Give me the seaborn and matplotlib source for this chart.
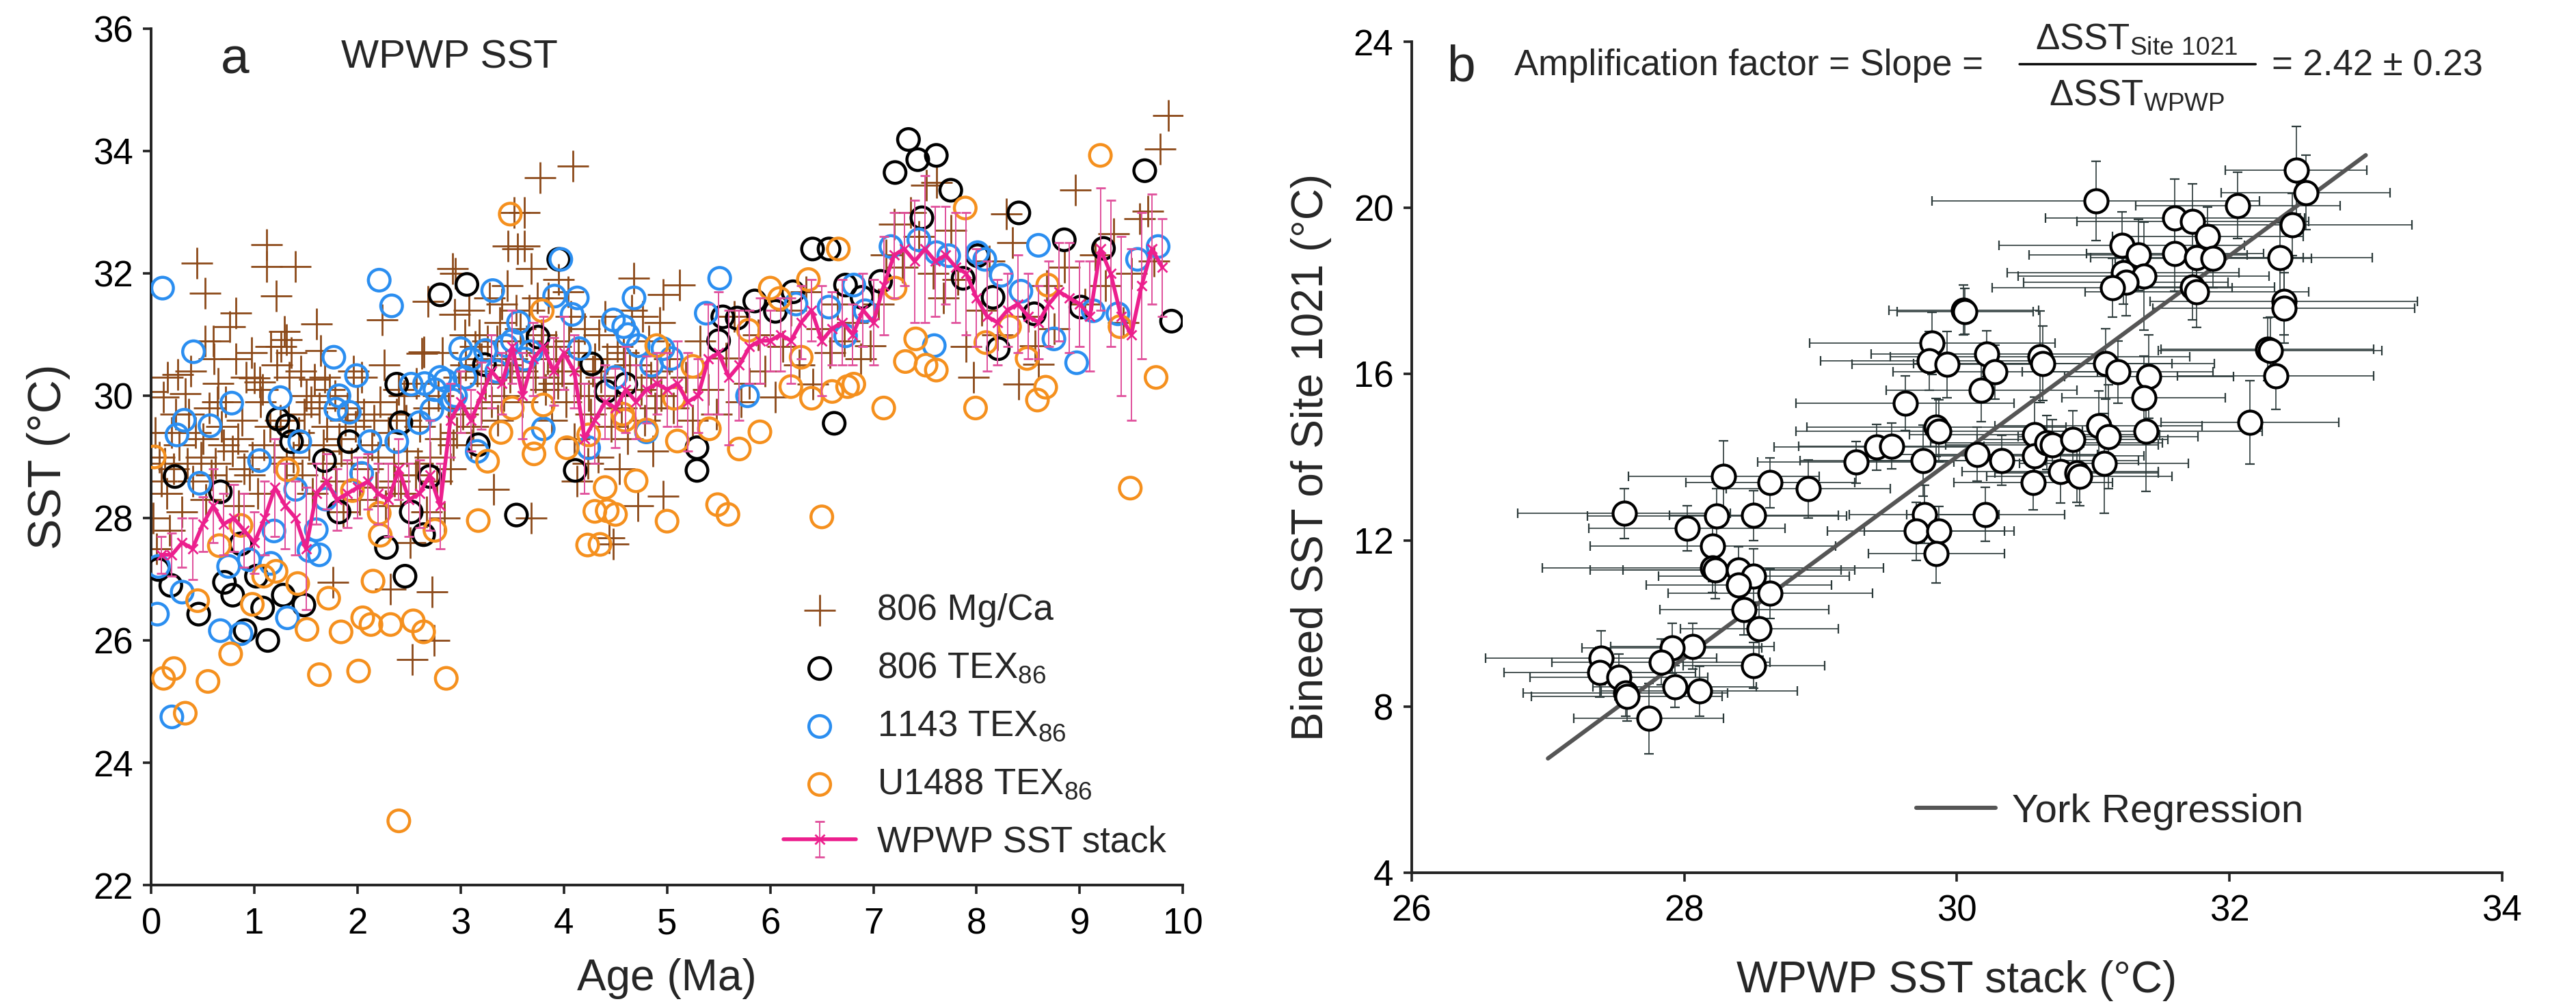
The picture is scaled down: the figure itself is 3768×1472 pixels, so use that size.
import matplotlib
matplotlib.use("Agg")
import matplotlib.pyplot as plt
import seaborn as sns

# ---------------- panel a : WPWP SST records ----------------
mgca_age = [0.00, 0.02, 0.05, 0.08, 0.12, 0.15, 0.18, 0.20, 0.22, 0.26,
            0.27, 0.30, 0.33, 0.36, 0.40, 0.43, 0.44, 0.48, 0.52, 0.53,
            0.52, 0.56, 0.60, 0.62, 0.65, 0.68, 0.73, 0.76, 0.79, 0.82,
            0.82, 0.85, 0.88, 0.92, 0.95, 0.98, 1.00, 1.05, 1.03, 1.06,
            1.09, 1.12, 1.12, 1.16, 1.21, 1.22, 1.25, 1.29, 1.31, 1.31,
            1.34, 1.36, 1.40, 1.43, 1.46, 1.50, 1.53, 1.56, 1.58, 1.60,
            1.63, 1.64, 1.66, 1.70, 1.73, 1.76, 1.79, 1.82, 1.86, 1.90,
            1.94, 1.98, 2.02, 2.06, 2.10, 2.14, 2.18, 2.22, 2.24, 2.27,
            2.30, 2.32, 2.35, 2.38, 2.42, 2.45, 2.48, 2.51, 2.53, 2.56,
            2.60, 2.62, 2.64, 2.67, 2.68, 2.70, 2.72, 2.74, 2.77, 2.80,
            2.84, 2.88, 2.92, 2.94, 2.95, 2.96, 2.98, 3.02, 3.05, 3.08,
            3.10, 3.14, 3.18, 3.20, 3.24, 3.28, 3.32, 3.35, 3.38, 3.42,
            3.45, 3.46, 3.50, 3.52, 3.55, 3.58, 3.60, 3.62, 3.62, 3.66,
            3.68, 3.68, 3.72, 3.77, 3.78, 3.82, 3.85, 3.88, 3.92, 3.95,
            3.98, 4.02, 4.05, 4.09, 4.10, 4.13, 4.16, 4.20, 4.23, 4.26,
            4.30, 4.33, 4.36, 4.40, 4.44, 4.46, 4.48, 4.50, 4.54, 4.58,
            4.62, 4.66, 4.68, 4.72, 4.75, 4.78, 4.82, 4.86, 4.90, 4.93,
            4.96, 4.96, 5.02, 5.06, 5.12, 5.18, 5.25, 5.32, 5.40, 5.48,
            5.57, 5.65, 5.72, 5.80, 5.88, 5.95, 6.05, 6.12, 6.20, 6.28,
            6.35, 6.41, 6.50, 6.58, 6.65, 6.72, 6.80, 6.88, 6.97, 7.05,
            7.12, 7.20, 7.28, 7.36, 7.44, 7.51, 7.58, 7.61, 7.68, 7.75,
            7.82, 7.90, 7.97, 8.05, 8.12, 8.20, 8.29, 8.35, 8.41, 8.50,
            8.57, 8.60, 8.68, 8.75, 8.85, 8.96, 9.05, 9.15, 9.25, 9.33,
            9.42, 9.50, 9.58, 9.66, 9.72, 9.78, 9.86,
            0.10, 0.35, 0.58, 0.70, 0.90, 1.15, 1.38, 1.48, 1.68, 1.84,
            2.00, 2.20, 2.40, 2.58, 2.78, 2.90, 3.12, 3.30, 3.48, 3.70,
            3.90, 4.07, 4.28, 4.52, 4.70, 4.88, 0.16, 0.64, 1.26, 1.96,
            0.04, 0.13, 0.24, 0.38, 0.50, 0.61, 0.72, 0.84, 0.97, 1.08,
            1.19, 1.33, 1.45, 1.55, 1.67, 1.78, 1.88, 2.04, 2.16, 2.26,
            2.36, 2.47, 2.57, 2.69, 2.82, 2.93, 3.04, 3.16, 3.26, 3.36,
            3.44, 3.54, 3.64, 3.74, 3.84, 3.94, 4.04, 4.14, 4.24, 4.34,
            4.42, 4.56, 4.64, 4.76, 4.84, 4.94, 3.20, 3.40, 3.60, 3.80]
mgca_sst = [30.07, 28.0, 27.5, 29.0, 29.98, 28.4, 27.8, 29.4, 28.8, 30.35,
            29.2, 28.1, 30.03, 29.7, 28.6, 29.4, 32.17, 29.0, 31.68, 28.3,
            30.89, 29.8, 30.89, 28.9, 30.2, 29.5, 28.6, 31.13, 29.1, 31.35,
            30.6, 28.2, 29.6, 30.3, 28.7, 29.0, 30.29, 30.22, 28.4, 29.9,
            29.2, 32.47, 32.11, 30.8, 31.63, 30.5, 29.6, 31.05, 30.92, 28.9,
            30.3, 30.7, 32.11, 29.4, 28.7, 30.0, 29.2, 28.4, 30.27, 31.17,
            29.8, 30.74, 28.9, 29.5, 30.1, 26.95, 28.6, 29.3, 28.1, 29.8,
            28.9, 29.5, 28.3, 29.7, 28.8, 29.2, 28.5, 29.9, 31.24, 28.2,
            29.4, 26.84, 28.9, 29.7, 28.4, 30.0, 29.1, 27.6, 25.69, 28.7,
            29.5, 30.69, 30.72, 28.1, 31.54, 29.0, 26.79, 26.0, 28.6, 29.3,
            28.0, 29.8, 32.08, 31.33, 32.0, 29.4, 30.3, 29.7, 30.5, 31.4,
            29.2, 30.8, 31.0, 29.8, 30.2, 31.6, 28.47, 30.9, 31.2, 30.0,
            31.8, 32.45, 30.6, 33.0, 32.4, 31.1, 29.9, 32.45, 33.0, 31.4,
            32.08, 28.0, 30.3, 33.56, 31.0, 30.1, 31.6, 29.6, 30.8, 31.9,
            30.4, 29.9, 30.9, 33.75, 29.3, 28.6, 30.2, 31.1, 28.9, 29.7,
            30.6, 29.0, 30.3, 31.3, 27.68, 29.5, 27.58, 30.0, 28.8, 30.7,
            29.3, 31.4, 31.92, 28.2, 30.1, 29.6, 30.9, 29.1, 30.4, 31.2,
            28.36, 31.66, 30.6, 29.8, 31.81, 30.3, 29.6, 30.9, 30.1, 29.7,
            30.61, 31.3, 29.9, 30.2, 31.0, 30.4, 29.98, 30.8, 31.4, 30.5,
            31.7, 30.19, 31.1, 30.7, 31.5, 30.9, 31.2, 30.6, 30.82, 31.5,
            32.3, 32.8, 32.1, 33.0, 32.6, 33.44, 32.0, 33.49, 31.6, 32.7,
            31.9, 30.8, 30.3, 31.4, 32.2, 31.0, 32.97, 32.5, 30.19, 31.3,
            30.82, 30.51, 31.8, 31.1, 32.1, 33.36, 31.5, 32.3, 31.8, 32.65,
            31.2, 32.0, 32.9, 33.02, 32.2, 34.03, 34.58,
            28.6, 28.9, 28.7, 29.2, 28.8, 29.5, 29.0, 29.7, 30.3, 29.1,
            29.9, 29.0, 30.1, 28.9, 30.0, 28.8, 29.5, 29.9, 30.3, 30.7,
            30.2, 31.3, 30.4, 30.8, 30.5, 29.8, 30.3, 29.9, 30.8, 30.4,
            29.4, 28.9, 29.7, 30.4, 29.3, 30.6, 29.9, 29.3, 30.7, 30.1,
            29.0, 29.6, 30.4, 29.9, 29.2, 30.0, 29.6, 30.3, 29.6, 30.5,
            28.6, 29.6, 30.2, 29.8, 30.7, 29.2, 31.0, 30.4, 30.9, 29.6,
            30.5, 31.4, 30.9, 31.6, 30.6, 30.2, 31.7, 30.7, 30.0, 31.0,
            30.6, 29.8, 30.5, 31.3, 30.3, 30.0, 30.6, 31.5, 30.4, 30.3]

tex806_age = [0.07, 0.19, 0.23, 0.46, 0.67, 0.71, 0.79, 0.87, 0.91, 1.02,
              1.13, 1.08, 1.23, 1.32, 1.36, 1.28, 1.48, 1.68, 1.82, 1.92,
              2.28, 2.46, 2.52, 2.64, 2.38, 2.42, 2.70, 2.80, 3.06, 3.17,
              3.23, 3.54, 3.75, 3.95, 4.11, 4.27, 4.41, 4.60, 5.29, 5.29,
              5.50, 5.54, 5.68, 5.85, 6.05, 6.22, 6.41, 6.57, 6.62, 6.73,
              6.89, 7.07, 7.21, 7.34, 7.43, 7.61, 7.47, 7.75, 7.87, 8.01,
              8.16, 8.21, 8.41, 8.56, 8.85, 9.01, 9.23, 9.63, 9.89]
tex806_sst = [27.16, 26.90, 28.68, 26.43, 28.43, 26.95, 26.74, 27.58, 26.16, 27.05,
              26.00, 26.53, 29.62, 29.51, 29.25, 26.74, 26.58, 28.94, 28.10, 29.25,
              27.52, 27.05, 28.10, 27.73, 30.19, 29.56, 28.68, 31.65, 31.82, 29.20,
              30.51, 28.05, 30.96, 32.23, 28.78, 30.52, 30.07, 30.19, 29.15, 28.78,
              30.90, 31.29, 31.27, 31.55, 31.38, 31.70, 32.40, 32.40, 29.55, 31.81,
              31.61, 31.87, 33.65, 34.19, 33.86, 33.93, 32.91, 33.36, 31.92, 32.29,
              31.61, 30.77, 32.99, 31.34, 32.55, 31.45, 32.41, 33.68, 31.22]

tex1143_age = [0.11, 0.06, 0.20, 0.07, 0.25, 0.30, 0.32, 0.41, 0.47, 0.57,
               0.67, 0.75, 0.78, 0.87, 0.95, 1.05, 1.16, 1.19, 1.25, 1.32,
               1.40, 1.44, 1.53, 1.60, 1.69, 1.77, 1.79, 1.82, 1.92, 1.99,
               2.04, 2.12, 2.21, 2.33, 2.38, 2.52, 2.60, 2.72, 2.80, 2.92,
               3.00, 3.04, 3.16, 3.24, 3.31, 3.44, 3.56, 3.68, 3.80, 3.91,
               3.97, 4.08, 4.13, 4.15, 4.24, 4.48, 4.58, 4.68, 4.72, 4.80,
               4.96, 5.04, 5.38, 5.51, 5.78, 6.25, 6.57, 6.73, 6.81, 6.92,
               7.17, 7.44, 7.61, 7.59, 7.73, 8.01, 8.08, 8.24, 8.43, 8.60,
               8.75, 8.97, 9.13, 9.37, 9.56, 9.76, 2.65, 2.75, 2.85, 2.95,
               3.10, 3.35, 3.50, 3.62, 4.50, 4.62, 4.85, 1.63]
tex1143_sst = [31.76, 26.43, 24.75, 27.21, 29.36, 26.79, 29.60, 30.72, 28.57, 29.51,
               26.16, 27.21, 29.88, 26.11, 27.32, 28.94, 27.26, 27.79, 29.97, 26.37,
               28.47, 29.25, 27.47, 27.81, 28.31, 30.63, 29.78, 30.00, 29.73, 30.33,
               28.73, 29.25, 31.89, 31.47, 29.25, 30.19, 29.56, 29.77, 30.30, 29.93,
               30.77, 30.30, 29.09, 30.74, 31.72, 30.82, 31.20, 30.72, 29.46, 31.63,
               32.23, 31.33, 31.60, 30.77, 29.15, 31.24, 31.13, 31.60, 30.82, 29.41,
               30.77, 30.61, 31.35, 31.92, 30.00, 31.50, 31.45, 30.98, 31.81, 31.39,
               32.44, 32.55, 32.34, 30.82, 32.29, 32.34, 32.23, 31.97, 31.71, 32.46,
               30.93, 30.54, 31.39, 31.34, 32.23, 32.44, 30.20, 30.10, 30.25, 30.00,
               30.60, 30.40, 30.90, 30.60, 30.30, 31.00, 30.50, 27.40]

u1488_age = [0.03, 0.12, 0.22, 0.33, 0.55, 0.77, 0.45, 0.66, 0.87, 0.98,
             1.09, 1.21, 1.42, 1.51, 1.72, 1.84, 2.05, 2.13, 1.63, 2.01,
             1.32, 1.95, 2.22, 2.21, 2.75, 3.17, 2.15, 2.32, 2.54, 2.64,
             2.86, 2.40, 4.35, 4.42, 3.26, 3.39, 3.71, 3.71, 4.03, 4.24,
             3.50, 3.80, 4.59, 4.80, 5.10, 5.41, 5.70, 5.90, 4.70, 4.40,
             4.30, 4.50, 5.00, 5.49, 5.59, 6.50, 4.23, 4.90, 5.25, 6.00,
             6.09, 6.37, 6.66, 6.30, 6.20, 6.40, 6.60, 6.75, 5.79, 4.57,
             5.07, 3.48, 3.79, 7.10, 7.21, 7.31, 7.41, 7.51, 7.61, 7.89,
             7.99, 8.09, 8.32, 8.49, 8.59, 8.67, 8.69, 9.20, 9.39, 9.49,
             9.74, 6.81]
u1488_sst = [29.00, 25.38, 25.54, 24.81, 25.33, 25.78, 26.65, 27.55, 27.88, 26.59,
             27.05, 27.13, 26.93, 26.18, 26.69, 26.14, 26.37, 26.26, 25.44, 25.50,
             28.79, 28.45, 27.72, 28.08, 27.80, 27.96, 26.97, 26.26, 26.32, 26.14,
             25.38, 23.05, 27.57, 28.12, 28.93, 29.40, 29.30, 29.05, 29.15, 29.36,
             29.80, 29.85, 29.60, 29.44, 29.26, 29.46, 29.13, 29.41, 28.61, 28.50,
             28.11, 28.06, 27.95, 28.22, 28.06, 28.02, 27.56, 30.82, 30.48, 31.76,
             31.59, 31.90, 32.40, 30.63, 30.15, 29.96, 30.07, 30.15, 31.07, 29.70,
             29.96, 32.97, 31.39, 29.80, 31.76, 30.56, 30.93, 30.50, 30.42, 33.07,
             29.80, 30.87, 31.13, 30.61, 29.93, 30.14, 31.81, 33.93, 31.13, 28.49,
             30.30, 30.19]

stack_age = [0.1, 0.2, 0.3, 0.4, 0.5, 0.6, 0.7, 0.8, 0.9, 1.0,
             1.1, 1.2, 1.3, 1.4, 1.5, 1.6, 1.7, 1.8, 1.9, 2.0,
             2.1, 2.2, 2.3, 2.4, 2.5, 2.6, 2.7, 2.8, 2.9, 3.0,
             3.1, 3.2, 3.3, 3.4, 3.5, 3.6, 3.7, 3.8, 3.9, 4.0,
             4.1, 4.2, 4.3, 4.4, 4.5, 4.6, 4.7, 4.8, 4.9, 5.0,
             5.1, 5.2, 5.3, 5.4, 5.5, 5.6, 5.7, 5.8, 5.9, 6.0,
             6.1, 6.2, 6.3, 6.4, 6.5, 6.6, 6.7, 6.8, 6.9, 7.0,
             7.1, 7.2, 7.3, 7.4, 7.5, 7.6, 7.7, 7.8, 7.9, 8.0,
             8.1, 8.2, 8.3, 8.4, 8.5, 8.6, 8.7, 8.8, 8.9, 9.0,
             9.1, 9.2, 9.3, 9.4, 9.5, 9.6, 9.7, 9.8]
stack_sst = [27.4, 27.4, 27.6, 27.5, 27.9, 28.2, 27.9, 28.0, 27.8, 27.6,
             28.0, 28.5, 28.2, 28.0, 27.5, 28.4, 28.6, 28.3, 28.4, 28.5,
             28.6, 28.4, 28.3, 28.8, 28.3, 28.4, 28.7, 28.2, 29.6, 29.9,
             29.6, 30.0, 30.4, 30.2, 30.8, 30.0, 30.6, 30.8, 30.4, 30.7,
             30.4, 29.3, 29.6, 29.9, 29.8, 30.1, 29.9, 30.1, 30.2, 30.1,
             30.2, 29.9, 30.0, 30.6, 30.7, 30.3, 30.5, 30.8, 30.9, 30.9,
             31.0, 30.9, 31.2, 31.4, 30.9, 31.1, 31.2, 31.0, 31.4, 31.2,
             31.8, 32.3, 32.4, 32.2, 32.4, 32.2, 32.3, 32.1, 32.0, 31.6,
             31.3, 31.2, 31.4, 31.5, 31.3, 31.2, 31.5, 31.7, 31.6, 31.5,
             31.3, 32.4, 32.0, 31.3, 31.0, 31.8, 32.4, 32.1]
stack_err = [0.3, 0.35, 0.4, 0.5, 0.45, 0.6, 0.5, 0.55, 0.6, 0.5,
             0.6, 0.8, 0.7, 0.6, 1.0, 0.5, 0.45, 0.5, 0.55, 0.5,
             0.45, 0.5, 0.6, 0.5, 0.6, 0.55, 0.9, 0.7, 0.6, 0.5,
             0.5, 0.55, 0.6, 0.5, 0.6, 0.7, 0.6, 0.5, 0.55, 0.6,
             0.6, 0.9, 0.7, 0.6, 0.65, 0.7, 0.6, 0.55, 0.5, 0.6,
             0.7, 0.8, 0.6, 0.9, 1.0, 1.1, 0.9, 0.6, 0.7, 0.5,
             0.6, 0.7, 0.6, 0.5, 0.9, 0.6, 0.7, 0.5, 0.6, 0.7,
             0.8, 0.7, 0.6, 1.0, 1.2, 0.9, 0.8, 0.9, 1.0, 0.8,
             0.9, 0.7, 0.6, 0.8, 0.7, 0.6, 0.7, 0.8, 0.9, 0.7,
             0.9, 1.0, 1.2, 1.3, 1.4, 1.2, 0.9, 0.8]

# ---------------- panel b : Site 1021 vs WPWP stack ----------------
wpwp = [32.49, 32.56, 31.02, 32.06, 31.60, 31.73, 32.46, 31.84, 31.21, 31.33,
        31.60, 31.76, 31.88, 32.37, 31.22, 31.37, 31.24, 31.14, 31.73, 31.76,
        32.40, 32.40, 30.05, 30.06, 29.82, 29.80, 29.93, 30.22, 30.28, 30.61,
        30.63, 31.09, 31.18, 31.41, 32.28, 32.30, 32.34, 31.37, 30.18, 29.62,
        32.15, 31.39, 29.85, 29.87, 29.41, 29.52, 29.26, 29.75, 30.15, 30.33,
        30.57, 30.57, 30.66, 30.70, 30.85, 31.04, 31.11, 31.08, 30.56, 30.76,
        30.88, 30.90, 28.29, 28.63, 28.91, 27.56, 28.24, 28.51, 28.02, 29.76,
        30.21, 29.70, 29.87, 29.85, 28.21, 28.21, 28.23, 28.40, 28.51, 28.40,
        28.63, 28.44, 28.55, 28.06, 27.91, 27.83, 27.39, 27.38, 27.52, 28.51,
        27.93, 28.11, 27.57, 27.58, 27.74]
site1021 = [20.91, 20.37, 20.17, 20.06, 19.75, 19.68, 19.60, 19.32, 19.10, 18.87,
            18.90, 18.80, 18.78, 18.80, 18.44, 18.36, 18.21, 18.08, 18.10, 17.98,
            17.75, 17.59, 17.54, 17.51, 16.74, 16.32, 16.23, 16.49, 16.05, 16.42,
            16.26, 16.25, 16.05, 15.94, 16.60, 16.57, 15.95, 15.43, 15.61, 15.30,
            14.84, 14.63, 14.72, 14.63, 14.24, 14.27, 13.88, 13.92, 14.07, 13.92,
            14.55, 14.04, 14.35, 14.30, 14.42, 14.75, 14.50, 13.85, 13.39, 13.65,
            13.62, 13.54, 13.54, 13.39, 13.24, 12.65, 12.59, 12.60, 12.29, 12.62,
            12.62, 12.22, 12.22, 11.68, 11.86, 11.34, 11.29, 11.29, 11.14, 10.92,
            10.72, 10.33, 9.87, 9.45, 9.41, 9.07, 9.17, 8.82, 8.71, 8.99,
            8.48, 8.37, 8.32, 8.25, 7.71]
wpwp_err = [0.52, 0.62, 1.20, 0.75, 0.95, 0.85, 0.88, 0.70, 0.90, 0.80,
            0.65, 0.78, 0.72, 0.68, 0.85, 0.92, 0.75, 0.88, 0.60, 0.82,
            0.98, 0.96, 0.55, 0.50, 0.90, 0.80, 0.70, 0.85, 0.75, 1.10,
            0.95, 0.80, 0.70, 0.62, 0.78, 0.82, 0.72, 0.60, 0.70, 0.80,
            0.65, 0.85, 0.95, 1.05, 0.75, 0.68, 0.72, 0.90, 0.88, 1.00,
            0.92, 0.80, 0.85, 0.78, 0.70, 0.76, 0.66, 0.62, 0.58, 0.72,
            0.60, 0.68, 0.70, 0.62, 0.60, 0.78, 0.95, 0.62, 0.72, 0.55,
            0.58, 0.65, 0.55, 0.50, 0.90, 1.25, 0.92, 0.85, 0.70, 0.68,
            0.75, 0.62, 0.58, 0.60, 0.66, 0.80, 0.85, 0.70, 0.65, 0.52,
            0.60, 0.72, 0.75, 0.70, 0.55]
site1021_err = [1.05, 0.90, 0.95, 0.80, 0.95, 0.90, 0.75, 0.70, 0.80, 0.85,
                0.90, 0.75, 0.70, 0.85, 0.75, 1.30, 0.80, 0.70, 0.80, 0.85,
                0.80, 0.85, 0.60, 0.55, 0.75, 0.70, 0.80, 0.55, 0.65, 1.10,
                0.90, 0.85, 0.75, 1.00, 0.75, 0.80, 0.80, 1.00, 0.75, 0.65,
                1.00, 1.45, 0.70, 0.75, 0.55, 0.55, 0.50, 0.85, 0.65, 0.60,
                0.90, 0.70, 0.65, 0.60, 0.70, 0.85, 1.25, 1.20, 0.65, 0.75,
                0.70, 0.70, 0.85, 0.60, 0.70, 0.60, 0.65, 0.60, 0.55, 0.70,
                0.65, 0.70, 0.60, 0.70, 0.85, 0.60, 0.70, 0.55, 0.65, 0.60,
                0.60, 0.60, 0.65, 0.55, 0.60, 0.55, 0.65, 0.60, 0.55, 0.55,
                0.50, 0.60, 0.55, 0.60, 0.85]
york_x = [27.0, 33.0]
york_y = [6.75, 21.27]

brown = "#8c4a1a"
blue = "#2b8ef0"
orange = "#f5901e"
pink = "#ec1f8d"
pink_err = "#e0509c"

sns.set_theme(style="ticks")
plt.rcParams["font.family"] = ["Liberation Sans Narrow", "Liberation Sans", "DejaVu Sans"]
plt.rcParams["mathtext.default"] = "regular"
plt.rcParams["axes.edgecolor"] = "#222222"

fig = plt.figure(figsize=(18.84, 7.36), dpi=200)
axa = fig.add_axes([0.0587, 0.1202, 0.4005, 0.8512])
axb = fig.add_axes([0.548, 0.1325, 0.4233, 0.826])

# ---- panel a
sns.scatterplot(x=mgca_age, y=mgca_sst, ax=axa, marker="+", color=brown,
                s=280, linewidth=1.0, label="806 Mg/Ca", zorder=2)
sns.scatterplot(x=tex806_age, y=tex806_sst, ax=axa, marker="o", s=130,
                color="black", facecolor="none", edgecolor="black",
                linewidth=1.6, label="806 TEX$_{86}$", zorder=3)
sns.scatterplot(x=tex1143_age, y=tex1143_sst, ax=axa, marker="o", s=130,
                color=blue, facecolor="none", edgecolor=blue,
                linewidth=1.6, label="1143 TEX$_{86}$", zorder=3)
sns.scatterplot(x=u1488_age, y=u1488_sst, ax=axa, marker="o", s=130,
                color=orange, facecolor="none", edgecolor=orange,
                linewidth=1.6, label="U1488 TEX$_{86}$", zorder=3)
axa.errorbar(stack_age, stack_sst, yerr=stack_err, color=pink, lw=2.0,
             marker="x", ms=5, mew=1.0, ecolor=pink_err, elinewidth=0.7,
             capsize=2.5, capthick=0.7, label="WPWP SST stack", zorder=4)

axa.set_xlim(0, 10)
axa.set_ylim(22, 36)
axa.set_xticks(range(0, 11))
axa.set_yticks(range(22, 37, 2))
axa.set_xlabel("Age (Ma)", fontsize=23)
axa.set_ylabel("SST (°C)", fontsize=24.5)
axa.xaxis.set_label_coords(0.5, -0.085)
axa.yaxis.set_label_coords(-0.078, 0.5)
axa.text(0.081, 0.963, "a", transform=axa.transAxes, fontsize=27,
         ha="center", va="center")
axa.text(0.184, 0.966, "WPWP SST", transform=axa.transAxes, fontsize=21,
         ha="left", va="center")
axa.legend(loc="lower left", bbox_to_anchor=(0.613, 0.03), frameon=False,
           fontsize=19, handlelength=2.0, handletextpad=0.6,
           labelspacing=0.66, borderpad=0, borderaxespad=0)

# ---- panel b
axb.errorbar(wpwp, site1021, xerr=wpwp_err, yerr=site1021_err, fmt="none",
             ecolor="#2d3b3b", elinewidth=0.6, capsize=2.5, capthick=0.8,
             zorder=1)
sns.lineplot(x=york_x, y=york_y, ax=axb, color="#555555", lw=2.2,
             label="York Regression", zorder=2)
sns.scatterplot(x=wpwp, y=site1021, ax=axb, marker="o", s=150, color="black",
                facecolor="white", edgecolor="black", linewidth=1.5, zorder=3)

axb.set_xlim(26, 34)
axb.set_ylim(4, 24)
axb.set_xticks(range(26, 35, 2))
axb.set_yticks(range(4, 25, 4))
axb.set_xlabel("WPWP SST stack (°C)", fontsize=23)
axb.set_ylabel("Bineed SST of Site 1021 (°C)", fontsize=23)
axb.xaxis.set_label_coords(0.5, -0.105)
axb.yaxis.set_label_coords(-0.073, 0.5)
axb.legend(loc="center left", bbox_to_anchor=(0.4625, 0.0735), frameon=False,
           fontsize=21, handlelength=2.0, handletextpad=0.4, borderpad=0,
           borderaxespad=0)

axb.text(0.045, 0.969, "b", transform=axb.transAxes, fontsize=27,
         ha="center", va="center")
axb.text(0.094, 0.971, "Amplification factor = Slope =", transform=axb.transAxes,
         fontsize=19, ha="left", va="center")
axb.annotate("", xy=(0.7775, 0.973), xytext=(0.554, 0.973),
             xycoords="axes fraction", textcoords="axes fraction",
             arrowprops=dict(arrowstyle="-", color="black", lw=1.2))
axb.text(0.665, 1.003, "ΔSST$_{Site\\ 1021}$", transform=axb.transAxes,
         fontsize=19, ha="center", va="center")
axb.text(0.665, 0.935, "ΔSST$_{WPWP}$", transform=axb.transAxes,
         fontsize=19, ha="center", va="center")
axb.text(0.789, 0.971, "= 2.42 ± 0.23", transform=axb.transAxes,
         fontsize=19, ha="left", va="center")

for ax in (axa, axb):
    sns.despine(ax=ax)
    for side in ("left", "bottom"):
        ax.spines[side].set_linewidth(1.4)
    ax.tick_params(direction="out", length=4.5, width=1.3, labelsize=19,
                   colors="#222222", labelcolor="black")
    ax.tick_params(axis="x", pad=7)
    ax.tick_params(axis="y", pad=5)

fig.savefig("out.png", dpi=200)
